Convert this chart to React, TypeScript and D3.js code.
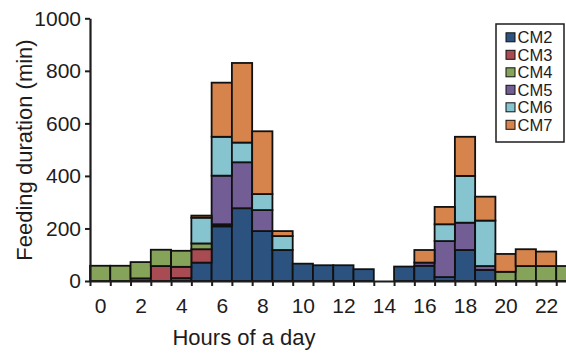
import React, {useEffect, useRef} from 'react';
import * as d3 from 'd3';

const hours = [0, 1, 2, 3, 4, 5, 6, 7, 8, 9, 10, 11, 12, 13, 14, 15, 16, 17, 18, 19, 20, 21, 22, 23];
const hourLabels = [0, 2, 4, 6, 8, 10, 12, 14, 16, 18, 20, 22];
const yTicks = [0, 200, 400, 600, 800, 1000];

const cm2 = [0, 0, 0, 0, 11, 70, 208, 277, 190, 118, 66, 60, 60, 45, 0, 55, 58, 15, 118, 42, 0, 0, 0, 0];
const cm3 = [0, 0, 10, 57, 43, 51, 4, 0, 0, 0, 0, 0, 0, 0, 0, 0, 0, 0, 0, 0, 0, 0, 0, 0];
const cm4 = [58, 58, 62, 62, 61, 22, 4, 0, 0, 0, 0, 0, 0, 0, 0, 0, 0, 0, 0, 0, 35, 57, 57, 57];
const cm5 = [0, 0, 0, 0, 0, 0, 185, 175, 80, 0, 0, 0, 0, 0, 0, 0, 12, 137, 104, 15, 0, 0, 0, 0];
const cm6 = [0, 0, 0, 0, 0, 98, 148, 75, 61, 53, 0, 0, 0, 0, 0, 0, 0, 64, 178, 173, 0, 0, 0, 0];
const cm7 = [0, 0, 0, 0, 0, 8, 206, 303, 239, 19, 0, 0, 0, 0, 0, 0, 48, 66, 149, 91, 68, 64, 55, 0];

const keys = ['CM2', 'CM3', 'CM4', 'CM5', 'CM6', 'CM7'];
const colors: Record<string, string> = {
    CM2: '#2c5380', CM3: '#a84b52', CM4: '#86a35a',
    CM5: '#725e95', CM6: '#86c4d0', CM7: '#d6834c'
};

const width = 566, height = 354;
const font = 'Liberation Sans, Arial, sans-serif';
const ink = '#1e1c1d';

export default function App() {
    const xAxisRef = useRef<SVGGElement>(null);
    const xLabelRef = useRef<SVGGElement>(null);
    const yAxisRef = useRef<SVGGElement>(null);

    const table = hours.map((h, i) => ({
        hour: h, CM2: cm2[i], CM3: cm3[i], CM4: cm4[i], CM5: cm5[i], CM6: cm6[i], CM7: cm7[i]
    }));
    const layers = d3.stack<any>().keys(keys)(table);

    const x = d3.scaleLinear().domain([0, 24]).range([90, 576.5]);
    const y = d3.scaleLinear().domain([0, 1000]).range([281, 18.3]);

    useEffect(() => {
        const xAxis = d3.select(xAxisRef.current!);
        xAxis.selectAll('*').remove();
        xAxis.call(d3.axisBottom(x).tickValues(d3.range(0, 25)).tickSize(5).tickSizeOuter(0).tickFormat(() => ''));
        xAxis.select('.domain').attr('stroke', ink).attr('stroke-width', 2.2);
        xAxis.selectAll('.tick line').attr('stroke', ink).attr('stroke-width', 2);

        const xLab = d3.select(xLabelRef.current!);
        xLab.selectAll('*').remove();
        xLab.call(d3.axisBottom(x).tickValues(hourLabels.map(h => h + 0.5)).tickSize(0).tickPadding(17)
            .tickFormat(d => String(+d - 0.5)));
        xLab.select('.domain').remove();
        xLab.selectAll('text').attr('font-size', 21).attr('font-family', font).attr('fill', ink);

        const yAxis = d3.select(yAxisRef.current!);
        yAxis.selectAll('*').remove();
        yAxis.call(d3.axisLeft(y).tickValues(yTicks).tickSize(5).tickSizeOuter(0).tickPadding(4)
            .tickFormat(d3.format('d')));
        yAxis.select('.domain').attr('stroke', ink).attr('stroke-width', 2.2);
        yAxis.selectAll('.tick line').attr('stroke', ink).attr('stroke-width', 2);
        yAxis.selectAll('text').attr('font-size', 21).attr('font-family', font).attr('fill', ink);
    }, []);

    return (
        <div style={{position: 'absolute', left: 0, top: 0}}>
            <svg width={width} height={height} style={{display: 'block', background: '#fff'}}>
                {layers.map(layer => (
                    <g key={layer.key} fill={colors[layer.key]} stroke="#111" strokeWidth={1.8}>
                        {layer.filter(s => s[1] - s[0] > 0).map((s, i) => (
                            <rect key={i}
                                  x={x(s.data.hour)}
                                  width={x(1) - x(0)}
                                  y={y(s[1])}
                                  height={y(s[0]) - y(s[1])}/>
                        ))}
                    </g>
                ))}
                <g ref={xAxisRef} transform={`translate(0,${y(0)})`}/>
                <g ref={xLabelRef} transform={`translate(0,${y(0)})`}/>
                <g ref={yAxisRef} transform={`translate(${x(0)},0)`}/>
                <text x={244} y={345} textAnchor="middle" fontSize={22} fontFamily={font} fill={ink}>
                    Hours of a day
                </text>
                <text transform="translate(32,150) rotate(-90)" textAnchor="middle" fontSize={22}
                      fontFamily={font} fill={ink}>
                    Feeding duration (min)
                </text>
                <g>
                    <rect x={496} y={24} width={68} height={118} fill="#fff" stroke={ink} strokeWidth={1.5}/>
                    {keys.map((k, i) => {
                        const cy = 37.3 + i * 17.5;
                        return (
                            <g key={k}>
                                <rect x={506} y={cy - 4.5} width={9} height={9} fill={colors[k]} stroke="#111"
                                      strokeWidth={1}/>
                                <text x={517.5} y={cy} dominantBaseline="central" fontSize={16.5}
                                      fontFamily={font} fill={ink}>{k}</text>
                            </g>
                        );
                    })}
                </g>
            </svg>
        </div>
    );
}
